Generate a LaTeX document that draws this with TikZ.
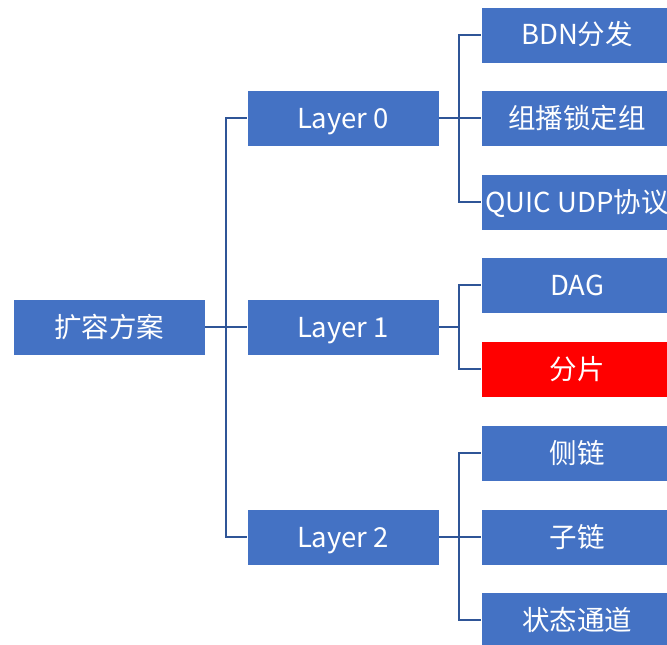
\documentclass[tikz,border=0pt]{standalone}
\usepackage{fontspec}
\setmainfont{Noto Sans CJK SC}
\definecolor{boxblue}{RGB}{68,114,196}
\definecolor{linkblue}{RGB}{47,85,151}
\definecolor{hotred}{RGB}{255,0,0}
\begin{document}
\begin{tikzpicture}[x=1pt,y=-1pt,
  box/.style={fill=boxblue, draw=white, line width=0.6pt, minimum width=192pt,
    minimum height=56pt, inner sep=0pt, text=white,
    font=\fontsize{27.5}{32}\selectfont, text height=23pt, text depth=3pt},
  hot/.style={box, fill=hotred},
  link/.style={draw=linkblue, line width=2.8pt}]
\useasboundingbox (0,0) rectangle (667,645);

% root, layers and leaves
\node[box] (root) at (109,327) {扩容方案};
\node[box] (l0) at (343,118) {Layer 0};
\node[box] (l1) at (343,327) {Layer 1};
\node[box] (l2) at (343,537) {Layer 2};

\node[box] (a1) at (577,35)  {BDN分发};
\node[box] (a2) at (577,118) {组播锁定组};
\node[box] (a3) at (577,202) {QUIC UDP协议};
\node[box] (b1) at (577,285) {DAG};
\node[hot] (b2) at (577,369) {分片};
\node[box] (c1) at (577,453) {侧链};
\node[box] (c2) at (577,537) {子链};
\node[box] (c3) at (577,620) {状态通道};

% spine between root and layers
\coordinate (sp) at (226,327);
\draw[link] (root.east) -- (sp);
\draw[link] (sp) |- (l0.west);
\draw[link] (sp) |- (l2.west);
\draw[link] (sp) -- (l1.west);

% spines between layers and leaves
\coordinate (s0) at (459,118);
\coordinate (s1) at (459,327);
\coordinate (s2) at (459,537);
\draw[link] (l0.east) -- (s0);
\draw[link] (s0) |- (a1.west);
\draw[link] (s0) -- (a2.west);
\draw[link] (s0) |- (a3.west);
\draw[link] (l1.east) -- (s1);
\draw[link] (s1) |- (b1.west);
\draw[link] (s1) |- (b2.west);
\draw[link] (l2.east) -- (s2);
\draw[link] (s2) |- (c1.west);
\draw[link] (s2) -- (c2.west);
\draw[link] (s2) |- (c3.west);
\end{tikzpicture}
\end{document}
